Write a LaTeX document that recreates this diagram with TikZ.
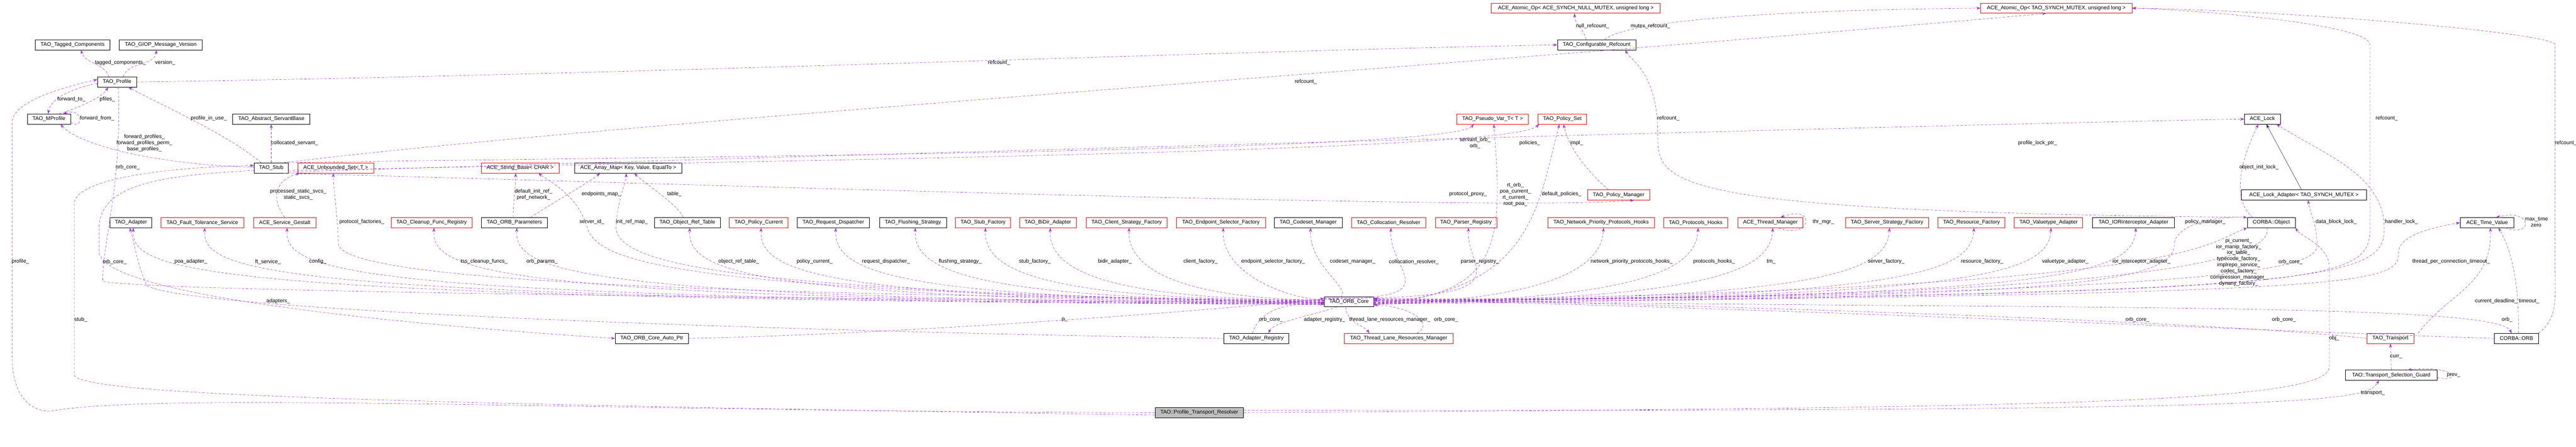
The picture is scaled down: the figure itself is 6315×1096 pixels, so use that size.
\documentclass[tikz,border=0pt]{standalone}
\usepackage{fontspec}
\setmainfont{Liberation Sans}
\usetikzlibrary{arrows.meta}
\definecolor{dep}{HTML}{9A32CD}
\definecolor{inhc}{HTML}{191970}
\tikzset{
 box/.style={draw=black,line width=0.8pt,rectangle,minimum height=25pt,inner sep=2pt,font=\fontsize{13}{15}\selectfont},
 rbox/.style={box,draw=red},
 gbox/.style={box,fill=black!25},
 dep/.style={draw=dep,line width=0.7pt,dash pattern=on 6pt off 4pt,-{Stealth[length=10pt,width=7pt]}},
 inh/.style={draw=inhc,line width=0.7pt,-{Stealth[length=10pt,width=7pt]}},
 lbl/.style={font=\fontsize{13}{15}\selectfont,inner sep=1pt,align=center}
}
\begin{document}
\begin{tikzpicture}[x=1pt,y=-1pt]
\useasboundingbox (0,0) rectangle (6315,1096);
% nodes
\node[box,minimum width=183] (tagged) at (178,110) {TAO\_Tagged\_Components};
\node[box,minimum width=203] (giop) at (394,110) {TAO\_GIOP\_Message\_Version};
\node[box,minimum width=96] (profile) at (287,201) {TAO\_Profile};
\node[box,minimum width=106] (mprofile) at (120,292) {TAO\_MProfile};
\node[box,minimum width=189] (absserv) at (665,292) {TAO\_Abstract\_ServantBase};
\node[box,minimum width=84] (stub) at (665,412) {TAO\_Stub};
\node[rbox,minimum width=185] (uset) at (823,412) {ACE\_Unbounded\_Set< T >};
\node[rbox,minimum width=191] (strbase) at (1275,412) {ACE\_String\_Base< CHAR >};
\node[box,minimum width=263] (arrmap) at (1540,412) {ACE\_Array\_Map< Key, Value, EqualTo >};
\node[rbox,minimum width=414] (nullop) at (3863,20) {ACE\_Atomic\_Op< ACE\_SYNCH\_NULL\_MUTEX, unsigned long >};
\node[box,minimum width=192] (cfgref) at (3914,110) {TAO\_Configurable\_Refcount};
\node[rbox,minimum width=176] (pseudo) at (3659,292) {TAO\_Pseudo\_Var\_T< T >};
\node[rbox,minimum width=119] (polset) at (3830,292) {TAO\_Policy\_Set};
\node[rbox,minimum width=152] (polmgr) at (3968,478) {TAO\_Policy\_Manager};
\node[box,minimum width=88] (acelock) at (5546,292) {ACE\_Lock};
\node[box,minimum width=307] (lockad) at (5648,478) {ACE\_Lock\_Adapter< TAO\_SYNCH\_MUTEX >};
\node[rbox,minimum width=371] (syncop) at (5041,20) {ACE\_Atomic\_Op< TAO\_SYNCH\_MUTEX, unsigned long >};
% bottom row
\node[box,minimum width=102] (adapter) at (321,546) {TAO\_Adapter};
\node[rbox,minimum width=203] (ft) at (496,546) {TAO\_Fault\_Tolerance\_Service};
\node[rbox,minimum width=152] (gestalt) at (698,546) {ACE\_Service\_Gestalt};
\node[rbox,minimum width=198] (cleanup) at (1058,546) {TAO\_Cleanup\_Func\_Registry};
\node[box,minimum width=162] (params) at (1261,546) {TAO\_ORB\_Parameters};
\node[box,minimum width=162] (objref) at (1685,546) {TAO\_Object\_Ref\_Table};
\node[rbox,minimum width=144] (polcur) at (1860,546) {TAO\_Policy\_Current};
\node[box,minimum width=177] (reqdisp) at (2043,546) {TAO\_Request\_Dispatcher};
\node[box,minimum width=164] (flush) at (2238,546) {TAO\_Flushing\_Strategy};
\node[rbox,minimum width=135] (stubfac) at (2410,546) {TAO\_Stub\_Factory};
\node[rbox,minimum width=139] (bidir) at (2569,546) {TAO\_BiDir\_Adapter};
\node[rbox,minimum width=199] (clientfac) at (2762,546) {TAO\_Client\_Strategy\_Factory};
\node[rbox,minimum width=218] (epsel) at (2993,546) {TAO\_Endpoint\_Selector\_Factory};
\node[box,minimum width=166] (codeset) at (3207,546) {TAO\_Codeset\_Manager};
\node[rbox,minimum width=181] (colloc) at (3404,546) {TAO\_Collocation\_Resolver};
\node[rbox,minimum width=151] (parser) at (3594,546) {TAO\_Parser\_Registry};
\node[rbox,minimum width=262] (netprio) at (3925,546) {TAO\_Network\_Priority\_Protocols\_Hooks};
\node[rbox,minimum width=157] (prothooks) at (4157,546) {TAO\_Protocols\_Hooks};
\node[rbox,minimum width=160] (thrmgr) at (4340,546) {ACE\_Thread\_Manager};
\node[rbox,minimum width=204] (srvfac) at (4626,546) {TAO\_Server\_Strategy\_Factory};
\node[rbox,minimum width=164] (resfac) at (4833,546) {TAO\_Resource\_Factory};
\node[rbox,minimum width=168] (valtype) at (5022,546) {TAO\_Valuetype\_Adapter};
\node[box,minimum width=200] (iorint) at (5230,546) {TAO\_IORInterceptor\_Adapter};
\node[box,minimum width=118] (corbaobj) at (5568,546) {CORBA::Object};
\node[box,minimum width=132] (timeval) at (6097,546) {ACE\_Time\_Value};
% lower
\node[box,minimum width=121] (orbcore) at (3307,740) {TAO\_ORB\_Core};
\node[box,minimum width=180] (autoptr) at (1598,830) {TAO\_ORB\_Core\_Auto\_Ptr};
\node[box,minimum width=159] (adreg) at (3080,830) {TAO\_Adapter\_Registry};
\node[rbox,minimum width=266] (tlrm) at (3429,830) {TAO\_Thread\_Lane\_Resources\_Manager};
\node[rbox,minimum width=116] (transport) at (5860,830) {TAO\_Transport};
\node[box,minimum width=108] (corbaorb) at (6169,830) {CORBA::ORB};
\node[box,minimum width=225] (guard) at (5862,920) {TAO::Transport\_Selection\_Guard};
\node[gbox,minimum width=217] (resolver) at (2940,1012) {TAO::Profile\_Transport\_Resolver};

% top-left edges
\draw[dep] ([xshift=-20]profile.north) to[out=110,in=-70] ([xshift=20]tagged.south);
\draw[dep] ([xshift=15]profile.north) to[out=70,in=-100] ([xshift=-10]giop.south);
\draw[dep] ([yshift=-4]profile.west) .. controls (180,215) and (125,240) .. ([xshift=-2]mprofile.north);
\draw[dep] ([xshift=25]mprofile.north) .. controls (190,265) and (250,240) .. ([xshift=-22]profile.south);
\draw[dep] ([yshift=-8]mprofile.east) .. controls (205,322) and (205,262) .. ([xshift=35]mprofile.north);
\draw[dep] ([yshift=2]stub.west) .. controls (400,405) and (200,360) .. ([xshift=28]mprofile.south);
\draw[dep] ([xshift=-25]stub.north) .. controls (560,330) and (380,250) .. ([xshift=28]profile.south);
\draw[dep] (stub.north) -- (absserv.south);
\draw[dep] (profile.east) .. controls (1500,185) and (3000,125) .. (cfgref.west);
\draw[dep] ([xshift=30]stub.north) .. controls (1500,300) and (3600,160) .. ([xshift=-25]syncop.south);
\draw[dep] ([xshift=20]cfgref.north) .. controls (3980,55) and (4300,25) .. (syncop.west);
\draw[dep] ([xshift=-26]cfgref.north) to[out=100,in=-90] ([xshift=-3]nullop.south);
\draw[dep] ([xshift=40]stub.north) .. controls (1500,385) and (3550,375) .. ([xshift=-46]pseudo.south);
\draw[dep] ([yshift=-6]stub.east) .. controls (2000,392) and (3700,372) .. ([xshift=-57]polset.south);
\draw[dep] ([yshift=-10]stub.east) .. controls (2000,380) and (5000,300) .. (acelock.west);
\draw[dep] ([xshift=30]stub.south) .. controls (1500,445) and (3700,520) .. ([xshift=38]polmgr.south);
\draw[dep] ([xshift=-25]polmgr.north) .. controls (3890,420) and (3845,360) .. ([xshift=3]polset.south);
\draw[dep] ([yshift=-5]orbcore.east) .. controls (3680,725) and (3685,600) .. ([xshift=3]pseudo.south);
\draw[dep] ([yshift=-3]orbcore.east) .. controls (3760,720) and (3770,500) .. ([xshift=-7]polset.south);
\draw[dep] ([xshift=-40]corbaobj.north) .. controls (4064,520) and (4064,450) .. (4064,330) .. controls (4064,180) and (4000,150) .. ([xshift=70]cfgref.south);
\draw[dep] ([yshift=-6]orbcore.east) .. controls (5700,715) and (5810,700) .. (5810,560) -- (5810,110) .. controls (5810,60) and (5400,25) .. (syncop.east);
\draw[dep] (corbaorb.north east) .. controls (6270,780) and (6264,740) .. (6264,650) -- (6264,110) .. controls (6264,80) and (5600,25) .. (syncop.east);
% ACE_Lock
\draw[dep] ([xshift=-45]corbaobj.north) .. controls (5480,500) and (5480,420) .. ([xshift=-10]acelock.south);
\draw[inh] ([xshift=-6]lockad.north) -- ([xshift=10]acelock.south);
\draw[dep] ([yshift=-2]orbcore.east) .. controls (5700,720) and (5845,690) .. (5845,560) .. controls (5845,430) and (5700,380) .. ([xshift=35]acelock.south);
\draw[dep] ([yshift=0]orbcore.east) .. controls (5600,720) and (5680,650) .. (5680,600) .. controls (5680,550) and (5665,530) .. ([xshift=10]lockad.south);
% CORBA::Object, time value, ORB
\draw[dep] ([yshift=2]orbcore.east) .. controls (5380,710) and (5400,600) .. (corbaobj.south west);
\draw[dep] ([xshift=-10]corbaobj.south) .. controls (5585,700) and (4500,735) .. ([yshift=3]orbcore.east);
\draw[dep] (resolver.east) .. controls (5000,1000) and (5710,990) .. (5710,900) -- (5710,650) .. controls (5705,600) and (5640,580) .. (corbaobj.south east);
\draw[dep] ([yshift=-4]orbcore.east) .. controls (5800,720) and (5880,700) .. (5880,620) .. controls (5880,580) and (5950,560) .. (timeval.west);
\draw[dep] ([xshift=10]transport.north east) .. controls (6000,720) and (6110,700) .. ([xshift=8]timeval.south);
\draw[dep] ([xshift=5]corbaorb.north) .. controls (6175,700) and (6160,620) .. ([xshift=28]timeval.south);
\draw[dep] ([xshift=45]timeval.south) .. controls (6210,585) and (6210,510) .. ([xshift=22]timeval.north);
\draw[dep] ([yshift=4]orbcore.east) .. controls (5000,760) and (6120,740) .. ([xshift=-12]corbaorb.north);
\draw[dep] (corbaorb.west) .. controls (5500,810) and (4500,760) .. ([yshift=6]orbcore.east);
\draw[dep] (transport.west) .. controls (5500,795) and (4500,755) .. ([yshift=8]orbcore.east);
\draw[dep] (guard.north) -- (transport.south);
\draw[dep] ([yshift=-6]guard.east) .. controls (6030,940) and (6030,895) .. ([xshift=40]guard.north);
\draw[dep] ([yshift=6]resolver.east) .. controls (5700,1010) and (5800,985) .. ([xshift=-30]guard.south);
% left side
\draw[dep] (resolver.west) .. controls (1500,1010) and (400,960) .. (125,1008) .. controls (60,1010) and (30,950) .. (30,880) -- (30,300) .. controls (30,250) and (150,215) .. ([yshift=6]profile.west);
\draw[dep] ([yshift=-6]resolver.west) .. controls (1000,990) and (200,970) .. (182,920) -- (182,500) .. controls (182,440) and (400,410) .. ([yshift=6]stub.west);
\draw[dep] ([yshift=-6]stub.west) .. controls (400,430) and (243,450) .. (243,560) -- (243,620) .. controls (260,720) and (900,790) .. (autoptr.west);
\draw[dep] ([xshift=3]profile.south) .. controls (300,450) and (250,600) .. (252,690) .. controls (400,720) and (2500,735) .. ([yshift=-3]orbcore.west);
\draw[dep] (adreg.west) .. controls (1800,810) and (450,760) .. (360,700) .. controls (340,660) and (330,600) .. ([xshift=-3]adapter.south);
\draw[dep] ([xshift=-10]adreg.north) .. controls (3090,760) and (3150,742) .. ([yshift=-6]orbcore.west);
\draw[dep] ([xshift=-30]orbcore.south) .. controls (3230,770) and (3120,790) .. ([xshift=30]adreg.north);
\draw[dep] ([xshift=-8]orbcore.south) .. controls (3300,790) and (3345,800) .. ([xshift=-72]tlrm.north);
\draw[dep] ([xshift=45]tlrm.north) .. controls (3520,790) and (3450,750) .. ([yshift=-8]orbcore.east);
\draw[dep] (autoptr.east) .. controls (2200,820) and (3000,760) .. ([yshift=8]orbcore.west);
\draw[dep] ([xshift=20]thrmgr.south) .. controls (4440,590) and (4455,500) .. ([xshift=25]thrmgr.north);
\draw[dep] (gestalt.north) .. controls (660,480) and (680,440) .. ([xshift=-88]uset.south);
\draw[dep] ([yshift=4]orbcore.west) .. controls (2000,725) and (850,700) .. (830,600) .. controls (825,500) and (817,460) .. ([xshift=-6]uset.south);
\draw[dep] ([xshift=-3]params.north) to[out=90,in=-90] ([xshift=-11]strbase.south);
\draw[dep] ([xshift=40]params.north) .. controls (1350,500) and (1440,450) .. ([xshift=-69]arrmap.south);
\draw[dep] ([yshift=-2]orbcore.west) .. controls (1700,715) and (1470,650) .. (1440,560) .. controls (1420,480) and (1340,440) .. ([xshift=45]strbase.south);
\draw[dep] ([yshift=-1]orbcore.west) .. controls (1800,715) and (1520,650) .. (1510,560) .. controls (1515,480) and (1535,450) .. ([xshift=-5]arrmap.south);
\draw[dep] ([xshift=-10]objref.north) .. controls (1660,500) and (1580,450) .. ([xshift=15]arrmap.south);
% bottom row from ORB_Core
\foreach \n/\o in {adapter/-7,ft/-6,gestalt/-5,cleanup/-4,params/-3,objref/-2,polcur/-1,reqdisp/0,flush/1,stubfac/2,bidir/3,clientfac/4,epsel/5,codeset/6,colloc/7,parser/8}
  \draw[dep] ([yshift=\o]orbcore.west) .. controls ([xshift=160,yshift=-175]\n.south) and ([yshift=-110]\n.south) .. ([xshift=6]\n.south);
\foreach \n/\o in {netprio/-7,prothooks/-5,thrmgr/-3,srvfac/-1,resfac/1,valtype/3,iorint/5}
  \draw[dep] ([yshift=\o]orbcore.east) .. controls ([xshift=-160,yshift=-175]\n.south) and ([yshift=-110]\n.south) .. ([xshift=6]\n.south);
\draw[dep] ([yshift=7]orbcore.east) .. controls (5000,735) and (5330,700) .. (5330,600) .. controls (5330,570) and (5380,530) .. (corbaobj.north west);

% labels
\node[lbl] at (295,154) {tagged\_components\_};
\node[lbl] at (405,154) {version\_};
\node[lbl] at (175,244) {forward\_to\_};
\node[lbl] at (263,244) {pfiles\_};
\node[lbl] at (238,290) {forward\_from\_};
\node[lbl] at (354,351) {forward\_profiles\_\\forward\_profiles\_perm\_\\base\_profiles\_};
\node[lbl] at (512,290) {profile\_in\_use\_};
\node[lbl] at (722,351) {collocated\_servant\_};
\node[lbl] at (313,410) {orb\_core\_};
\node[lbl] at (731,477) {processed\_static\_svcs\_\\static\_svcs\_};
\node[lbl] at (887,544) {protocol\_factories\_};
\node[lbl] at (50,642) {profile\_};
\node[lbl] at (281,642) {orb\_core\_};
\node[lbl] at (468,642) {poa\_adapter\_};
\node[lbl] at (657,642) {ft\_service\_};
\node[lbl] at (779,642) {config\_};
\node[lbl] at (682,739) {adapters\_};
\node[lbl] at (198,784) {stub\_};
\node[lbl] at (1308,477) {default\_init\_ref\_\\pref\_network\_};
\node[lbl] at (1474,476) {endpoints\_map\_};
\node[lbl] at (1653,476) {table\_};
\node[lbl] at (1451,544) {server\_id\_};
\node[lbl] at (1549,544) {init\_ref\_map\_};
\node[lbl] at (1187,642) {tss\_cleanup\_funcs\_};
\node[lbl] at (1329,642) {orb\_params\_};
\node[lbl] at (1811,642) {object\_ref\_table\_};
\node[lbl] at (1997,642) {policy\_current\_};
\node[lbl] at (2172,642) {request\_dispatcher\_};
\node[lbl] at (2354,642) {flushing\_strategy\_};
\node[lbl] at (2537,642) {stub\_factory\_};
\node[lbl] at (2733,642) {bidir\_adapter\_};
\node[lbl] at (2943,642) {client\_factory\_};
\node[lbl] at (3121,642) {endpoint\_selector\_factory\_};
\node[lbl] at (2610,784) {p\_};
\node[lbl] at (3116,784) {orb\_core\_};
\node[lbl] at (2449,154) {refcount\_};
\node[lbl] at (3201,200) {refcount\_};
\node[lbl] at (3904,64) {null\_refcount\_};
\node[lbl] at (4046,64) {mutex\_refcount\_};
\node[lbl] at (3616,351) {servant\_orb\_\\orb\_};
\node[lbl] at (3750,351) {policies\_};
\node[lbl] at (3865,351) {impl\_};
\node[lbl] at (4090,290) {refcount\_};
\node[lbl] at (3599,476) {protocol\_proxy\_};
\node[lbl] at (3715,477) {rt\_orb\_\\poa\_current\_\\rt\_current\_\\root\_poa\_};
\node[lbl] at (3828,476) {default\_policies\_};
\node[lbl] at (3316,642) {codeset\_manager\_};
\node[lbl] at (3466,642) {collocation\_resolver\_};
\node[lbl] at (3628,642) {parser\_registry\_};
\node[lbl] at (4000,642) {network\_priority\_protocols\_hooks\_};
\node[lbl] at (4202,642) {protocols\_hooks\_};
\node[lbl] at (3247,784) {adapter\_registry\_};
\node[lbl] at (3407,784) {thread\_lane\_resources\_manager\_};
\node[lbl] at (3545,784) {orb\_core\_};
\node[lbl] at (4995,351) {profile\_lock\_ptr\_};
\node[lbl] at (4470,544) {thr\_mgr\_};
\node[lbl] at (4342,642) {tm\_};
\node[lbl] at (4624,642) {server\_factory\_};
\node[lbl] at (4859,642) {resource\_factory\_};
\node[lbl] at (5063,642) {valuetype\_adapter\_};
\node[lbl] at (5250,642) {ior\_interceptor\_adapter\_};
\node[lbl] at (5240,784) {orb\_core\_};
\node[lbl] at (5851,290) {refcount\_};
\node[lbl] at (6290,351) {refcount\_};
\node[lbl] at (5538,410) {object\_init\_lock\_};
\node[lbl] at (5406,544) {policy\_manager\_};
\node[lbl] at (5727,544) {data\_block\_lock\_};
\node[lbl] at (5887,544) {handler\_lock\_};
\node[lbl] at (6218,538) {max\_time};
\node[lbl] at (6217,553) {zero};
\node[lbl] at (5488,643) {pi\_current\_\\ior\_manip\_factory\_\\ior\_table\_\\typecode\_factory\_\\implrepo\_service\_\\codec\_factory\_\\compression\_manager\_\\dynany\_factory\_};
\node[lbl] at (5615,642) {orb\_core\_};
\node[lbl] at (6009,642) {thread\_per\_connection\_timeout\_};
\node[lbl] at (6146,739) {current\_deadline\_ timeout\_};
\node[lbl] at (5599,784) {orb\_core\_};
\node[lbl] at (6146,784) {orb\_};
\node[lbl] at (5722,829) {obj\_};
\node[lbl] at (5874,875) {curr\_};
\node[lbl] at (6015,921) {prev\_};
\node[lbl] at (5817,964) {transport\_};
\end{tikzpicture}
\end{document}
